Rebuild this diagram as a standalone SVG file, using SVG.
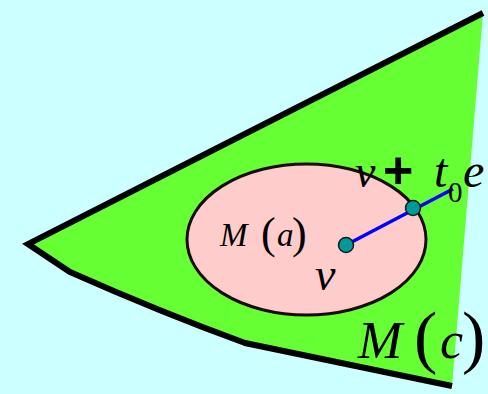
<svg xmlns="http://www.w3.org/2000/svg" width="488" height="394" viewBox="0 0 488 394">
<style>
.m{font-family:"Liberation Serif","DejaVu Serif",serif;font-style:italic;fill:#000}
.p{font-family:"Liberation Serif","DejaVu Serif",serif;fill:#000}
.dot{fill:#009999;stroke:#1a1a1a;stroke-width:1.5}
</style>
<rect width="488" height="394" fill="#ccffff"/>
<g id="region-c">
<path d="M28,244 L483,13 L452,386 L245,343 Q160,312 70,272 Z" fill="#66ff33"/>
<path d="M483,13 L28,244 L70,272 Q160,312 245,343 L452,386" fill="none" stroke="#000" stroke-width="6" stroke-linejoin="miter"/>
</g>
<g id="region-a">
<ellipse cx="306.5" cy="239.5" rx="119.5" ry="75.5" fill="#ffcccc" stroke="#1a0a0a" stroke-width="3"/>
</g>
<g id="connectors">
<line x1="346" y1="245" x2="453" y2="189" stroke="#0000ff" stroke-width="3.5"/>
</g>
<g id="point-v"><circle class="dot" cx="346" cy="245" r="7.5"/></g>
<g id="point-vt"><circle class="dot" cx="413" cy="208" r="7.5"/></g>
<g id="labels">
<text class="m" x="220" y="246" font-size="33">M</text>
<text class="p" x="261" y="248" font-size="44">(</text>
<text class="m" x="277" y="246" font-size="33">a</text>
<text class="p" x="292" y="248" font-size="44">)</text>
<text class="m" x="315" y="290" font-size="46">v</text>
<text class="m" x="355" y="187" font-size="46">v</text>
<text x="383" y="188" font-size="52" font-family="Liberation Sans,Arial,sans-serif" font-weight="bold">+</text>
<text class="m" x="434" y="187" font-size="48">t</text>
<text class="p" x="448" y="202" font-size="29">0</text>
<text class="m" x="463" y="187" font-size="48">e</text>
<text class="m" x="358" y="358" font-size="53">M</text>
<text class="p" x="414" y="360" font-size="70">(</text>
<text class="m" x="440" y="358" font-size="52">c</text>
<text class="p" x="462" y="360" font-size="70">)</text>
</g>
</svg>
